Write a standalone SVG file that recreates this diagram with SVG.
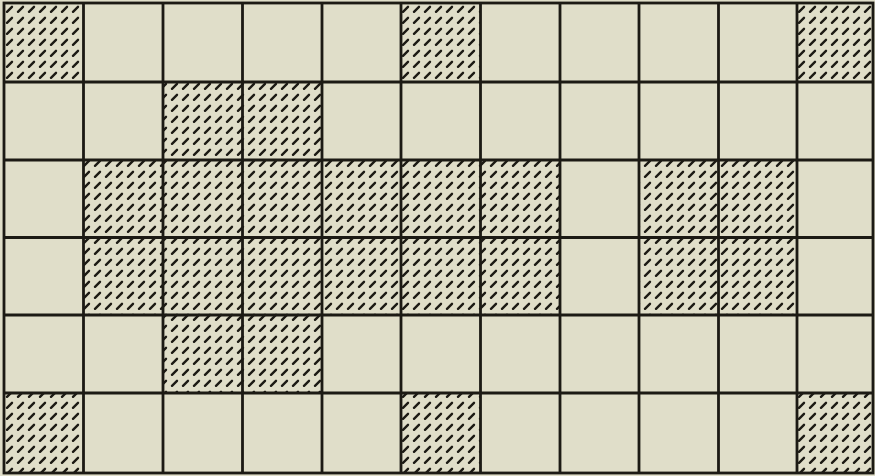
<svg xmlns="http://www.w3.org/2000/svg" width="875" height="476" viewBox="0 0 875 476">
<defs>
<pattern id="hatch" patternUnits="userSpaceOnUse" x="4" y="3" width="11" height="11">
<rect width="11" height="11" fill="#e0dec9"/>
<line x1="3" y1="8.8" x2="8" y2="3.8" stroke="#1c1a14" stroke-width="2.4" stroke-linecap="round"/>
</pattern>
</defs>
<style>
.bg{fill:#e0dec9}
.h{fill:url(#hatch)}
.g{stroke:#1c1a14;stroke-width:2.8;fill:none}
</style>
<rect class="bg" x="0" y="0" width="875" height="476"/>
<g id="hatched">
<rect class="h" x="4" y="3" width="79.5" height="79"/>
<rect class="h" x="401" y="3" width="79.5" height="79"/>
<rect class="h" x="797" y="3" width="76" height="79"/>
<rect class="h" x="163" y="82" width="159" height="78"/>
<rect class="h" x="83.5" y="160" width="476.5" height="155"/>
<rect class="h" x="639" y="160" width="158" height="155"/>
<rect class="h" x="163" y="315" width="159" height="78"/>
<rect class="h" x="4" y="393" width="79.5" height="80"/>
<rect class="h" x="401" y="393" width="79.5" height="80"/>
<rect class="h" x="797" y="393" width="76" height="80"/>
</g>
<g id="grid" class="g">
<rect x="4" y="3" width="869" height="470"/>
<path d="M83.5 3V473M163 3V473M242.5 3V473M322 3V473M401 3V473M480.5 3V473M560 3V473M639 3V473M718.5 3V473M797 3V473"/>
<path d="M4 82H873M4 160H873M4 237.5H873M4 315H873M4 393H873"/>
</g>
</svg>
